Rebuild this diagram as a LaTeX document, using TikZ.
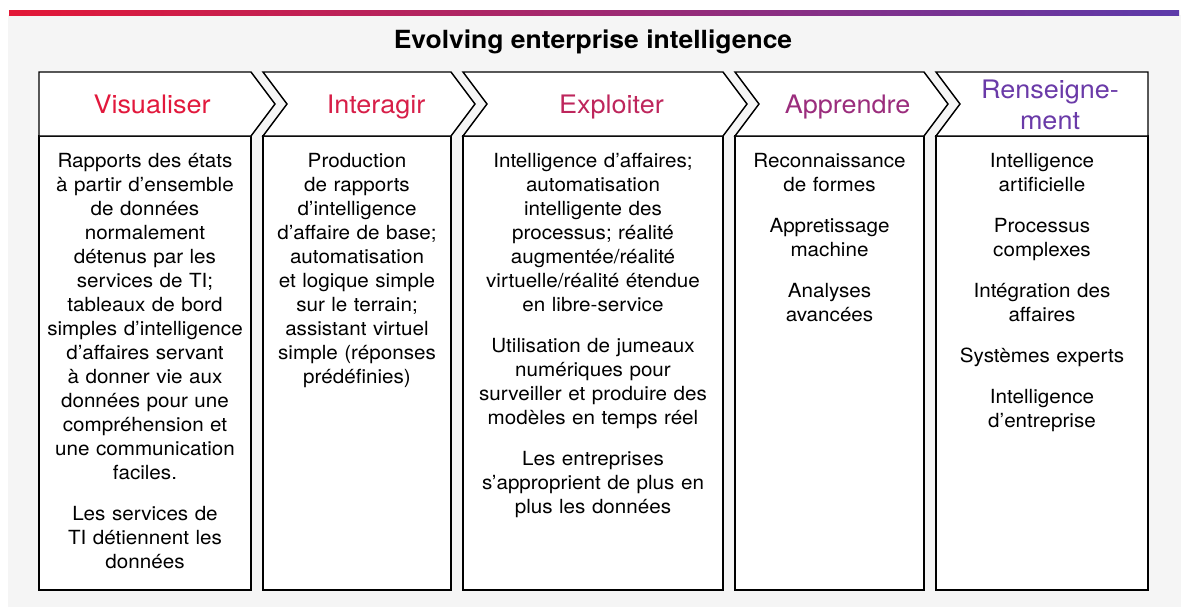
\documentclass[tikz,border=0pt]{standalone}
\usepackage{fontspec}
\setmainfont{TeX Gyre Heros}[FakeStretch=1.06]
\definecolor{cPanel}{RGB}{245,245,245}
\definecolor{cBarL}{RGB}{227,24,55}
\definecolor{cBarR}{RGB}{92,58,170}
\definecolor{cVis}{RGB}{226,24,60}
\definecolor{cInt}{RGB}{215,30,72}
\definecolor{cExp}{RGB}{190,38,92}
\definecolor{cApp}{RGB}{155,45,125}
\definecolor{cRen}{RGB}{106,58,168}
\tikzset{
  box/.style={draw=black, fill=white, line width=1.1pt, line join=miter},
  bodytext/.style={anchor=base, align=center, inner sep=0pt, text width=200pt,
    font=\fontsize{14.6pt}{18pt}\selectfont},
  headtext/.style={anchor=base, align=center, inner sep=0pt,
    font=\fontsize{19.1pt}{23.25pt}\selectfont},
}
\begin{document}
\begin{tikzpicture}[x=0.75pt,y=-0.75pt]
\useasboundingbox (0,0) rectangle (1181,607);
\fill[white] (0,0) rectangle (1181,607);
\fill[cPanel] (8,15) rectangle (1181,607);
\shade[left color=cBarL, right color=cBarR] (9,10) rectangle (1179,15);
\node[anchor=base, inner sep=0pt, font=\fontsize{18.75pt}{22pt}\selectfont\bfseries] (title) at (593,48) {Evolving enterprise intelligence};
% bodies
\draw[box] (39,136) rectangle (251,590);
\draw[box] (263,136) rectangle (451,590);
\draw[box] (463,136) rectangle (723,590);
\draw[box] (735,136) rectangle (924,590);
\draw[box] (936,136) rectangle (1148,590);
% headers
\draw[box] (39,72) -- (251,72) -- (275,104) -- (251,136) -- (39,136) -- cycle;
\draw[box] (263,72) -- (451,72) -- (475,104) -- (451,136) -- (263,136) -- (287,104) -- cycle;
\draw[box] (463,72) -- (723,72) -- (747,104) -- (723,136) -- (463,136) -- (487,104) -- cycle;
\draw[box] (735,72) -- (924,72) -- (948,104) -- (924,136) -- (735,136) -- (759,104) -- cycle;
\draw[box] (936,72) -- (1148,72) -- (1148,136) -- (936,136) -- (960,104) -- cycle;
\node[headtext, text=cVis] (h1) at (152,113) {Visualiser};
\node[headtext, text=cInt] (h2) at (376,113) {Interagir};
\node[headtext, text=cExp] (h3) at (611.5,113) {Exploiter};
\node[headtext, text=cApp] (h4) at (847.5,113) {Apprendre};
\node[headtext, text=cRen, anchor=north] (h5) at (1050,80) {Renseigne-\\ment};
% body texts
\node[bodytext] (t1) at (145,167) {Rapports des états\\à partir d’ensemble\\de données\\normalement\\détenus par les\\services de TI;\\tableaux de bord\\simples d’intelligence\\d’affaires servant\\à donner vie aux\\données pour une\\compréhension et\\une communication\\faciles.\\[12.75pt]Les services de\\TI détiennent les\\données};
\node[bodytext] (t2) at (357,167) {Production\\de rapports\\d’intelligence\\d’affaire de base;\\automatisation\\et logique simple\\sur le terrain;\\assistant virtuel\\simple (réponses\\prédéfinies)};
\node[bodytext] (t3) at (593,167) {Intelligence d’affaires;\\automatisation\\intelligente des\\processus; réalité\\augmentée/réalité\\virtuelle/réalité étendue\\en libre-service\\[12.75pt]Utilisation de jumeaux\\numériques pour\\surveiller et produire des\\modèles en temps réel\\[12.75pt]Les entreprises\\s’approprient de plus en\\plus les données};
\node[bodytext] (t4) at (829.5,167) {Reconnaissance\\de formes\\[12.75pt]Appretissage\\machine\\[12.75pt]Analyses\\avancées};
\node[bodytext] (t5) at (1042,167) {Intelligence\\artificielle\\[12.75pt]Processus\\complexes\\[12.75pt]Intégration des\\affaires\\[12.75pt]Systèmes experts\\[12.75pt]Intelligence\\d’entreprise};
\end{tikzpicture}
\end{document}
